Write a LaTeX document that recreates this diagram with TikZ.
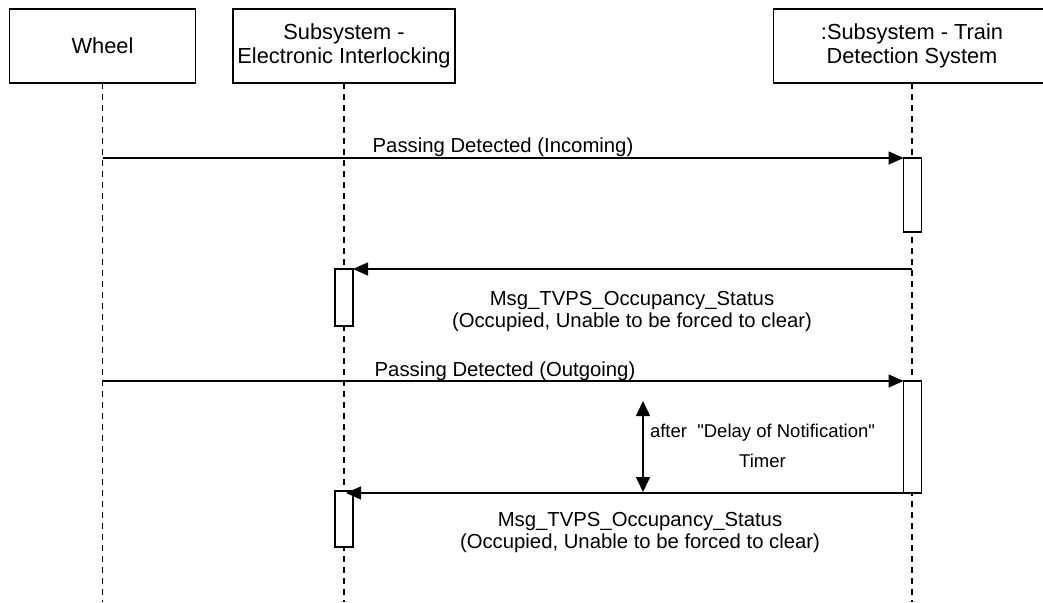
\documentclass[tikz,border=0pt]{standalone}
\usepackage{fontspec}
\setmainfont{Liberation Sans}
\usetikzlibrary{arrows.meta}
\begin{document}
\begin{tikzpicture}[x=1pt,y=-1pt,
  every node/.style={inner sep=0pt, outer sep=0pt},
  actor/.style={draw, line width=1.5pt, fill=white, minimum height=74pt,
    align=center, font=\fontsize{21.8}{23.5}\selectfont},
  lifeline/.style={line width=1.5pt, dash pattern=on 6pt off 5pt},
  activation/.style={draw, line width=1.5pt, fill=white, minimum width=18pt},
  msg/.style={line width=1.5pt, -{Triangle[length=15pt,width=13pt]}},
  timer/.style={line width=1.5pt, {Triangle[length=15pt,width=14pt]}-{Triangle[length=15pt,width=14pt]}},
  lbl/.style={font=\fontsize{20.3}{22}\selectfont, align=center},
  note/.style={font=\fontsize{18.5}{30}\selectfont, align=center}]

\useasboundingbox (0,0) rectangle (1043,602);

% participants
\node[actor, minimum width=186pt] (wheel) at (102.5,46) {Wheel};
\node[actor, minimum width=222pt] (ei) at (344,46) {Subsystem -\\Electronic Interlocking};
\node[actor, minimum width=277pt] (tds) at (912,46) {:Subsystem - Train\\Detection System};

% lifeline ends
\coordinate (wheelend) at (102.5,602);
\coordinate (eiend) at (344,602);
\coordinate (tdsend) at (912,602);

\draw[lifeline] (wheel.south) -- (wheelend);
\draw[lifeline] (ei.south) -- (eiend);
\draw[lifeline] (tds.south) -- (tdsend);

% activations
\node[activation, minimum height=74pt] (act1) at (912.5,195) {};
\node[activation, minimum height=57pt] (act2) at (344,297.5) {};
\node[activation, minimum height=112pt] (act3) at (912.5,437) {};
\node[activation, minimum height=56pt] (act4) at (344,519) {};

% message end points on the lifelines
\coordinate (m1start) at (102.5,158);
\coordinate (m2start) at (912,269);
\coordinate (m3start) at (102.5,381);
\coordinate (m4end) at (346,493);
\coordinate (tup) at (643,401);
\coordinate (tdown) at (643,492);

% messages
\draw[msg] (m1start) -- (act1.north west);
\node[lbl, anchor=base] (l1) at (503,152) {Passing Detected (Incoming)};

\draw[msg] (m2start) -- (act2.north east);
\node[lbl] (l2) at (632,311.5) {Msg\_TVPS\_Occupancy\_Status\\(Occupied, Unable to be forced to clear)};

\draw[msg] (m3start) -- (act3.north west);
\node[lbl, anchor=base] (l3) at (505,376) {Passing Detected (Outgoing)};

\draw[msg] (act3.south west) -- (m4end);
\node[lbl] (l4) at (640,532.5) {Msg\_TVPS\_Occupancy\_Status\\(Occupied, Unable to be forced to clear)};

% delay timer
\draw[timer] (tdown) -- (tup);
\node[note] (tl) at (762.5,446) {after~~\textquotedbl Delay of Notification\textquotedbl\\Timer};

\end{tikzpicture}
\end{document}
